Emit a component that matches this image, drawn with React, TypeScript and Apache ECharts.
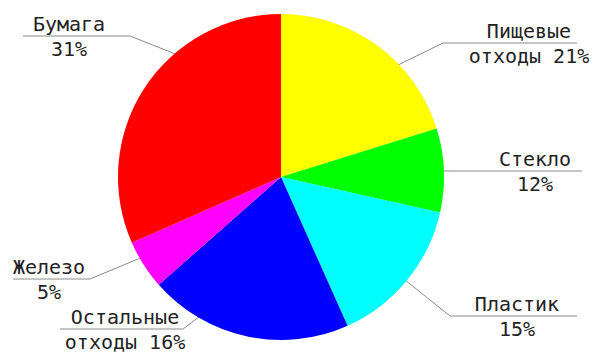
import React, { useEffect, useRef } from "react";
import * as echarts from "echarts";

// Data (clockwise from 12 o'clock)
const categories = ["Пищевые отходы", "Стекло", "Пластик", "Остальные отходы", "Железо", "Бумага"];
// slice sizes as drawn in the picture
const sliceShares = [20.2, 8.3, 14.8, 20.2, 4.9, 31.6];
// percentages as printed in the labels
const labelPercents = [21, 12, 15, 16, 5, 31];
const sliceColors = ["#ffff00", "#00ff00", "#00ffff", "#0000ff", "#ff00ff", "#ff0000"];

// Layout (positions only)
const PIE_CX = 281;
const PIE_CY = 177;
const PIE_R = 163;
const LABEL_CENTERS = [[529, 43], [535, 171], [517, 316], [125, 329], [49, 279], [69, 36]];
const LINE_X = [[443, 577], [450, 582], [450, 577], [183, 60], [90, 13], [130, 23]]; // elbow x, outer x
const ANCHORS = [[45, 0.93], [2.3, 0.9], [-39.8, 0.91], [-120, 0.98], [209.9, 1.0], [128.9, 0.94]]; // deg, radius fraction

export default function App() {
  const ref = useRef<HTMLDivElement>(null);
  useEffect(() => {
    if (!ref.current) return;
    const chart = echarts.init(ref.current, undefined, { renderer: "svg" });
    chart.setOption({
      animation: false,
      backgroundColor: "#ffffff",
      series: [
        {
          type: "pie",
          center: [PIE_CX, PIE_CY],
          radius: PIE_R,
          startAngle: 90,
          clockwise: true,
          avoidLabelOverlap: false,
          data: categories.map((name, i) => ({
            name,
            value: sliceShares[i],
            itemStyle: { color: sliceColors[i] },
          })),
          itemStyle: { borderWidth: 0 },
          emphasis: { disabled: true },
          label: {
            show: true,
            position: "outside",
            fontFamily: "DejaVu Sans Mono",
            fontSize: 20,
            lineHeight: 25,
            color: "#222222",
            align: "center",
            formatter: (p: any) => {
              const parts = String(p.name).split(" ");
              const first = parts[0];
              const rest = parts.slice(1).join(" ");
              return first + "\n" + (rest ? rest + " " : "") + labelPercents[p.dataIndex] + "%";
            },
          },
          labelLine: {
            show: true,
            smooth: false,
            lineStyle: { color: "#8a8a8a", width: 1 },
          },
          labelLayout: (params: any) => {
            const i = params.dataIndex;
            const [lx, ly] = LABEL_CENTERS[i];
            const [elbowX, outerX] = LINE_X[i];
            const [deg, f] = ANCHORS[i];
            const a = (deg * Math.PI) / 180;
            const ax = PIE_CX + PIE_R * f * Math.cos(a);
            const ay = PIE_CY - PIE_R * f * Math.sin(a);
            return {
              x: lx,
              y: ly,
              align: "center",
              verticalAlign: "middle",
              labelLinePoints: [
                [ax, ay],
                [elbowX, ly],
                [outerX, ly],
              ],
            };
          },
        },
      ],
    });
    return () => chart.dispose();
  }, []);
  return (
    <div
      ref={ref}
      style={{ position: "absolute", left: 0, top: 0, width: 598, height: 354 }}
    />
  );
}
